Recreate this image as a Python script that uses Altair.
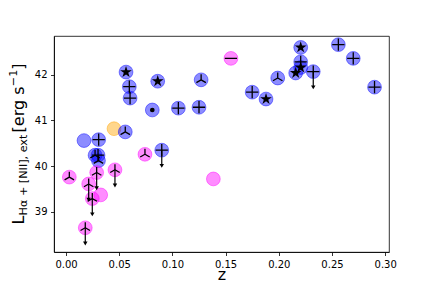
import altair as alt
import pandas as pd

# ---- data ----
z = [0.0564, 0.0862, 0.0595, 0.0602, 0.0811, 0.1056, 0.1270, 0.1250, 0.1550, 0.1750,
     0.1880, 0.1990, 0.2206, 0.2206, 0.2206, 0.2159, 0.2324, 0.2560, 0.2700, 0.2900,
     0.0451, 0.0557, 0.0169, 0.0307, 0.0900, 0.0273, 0.0301, 0.0305, 0.0742, 0.0031,
     0.0288, 0.0460, 0.0213, 0.0326, 0.0247, 0.0181, 0.1385]
lum = [42.06, 41.86, 41.74, 41.49, 41.23, 41.27, 41.89, 41.29, 42.36, 41.62,
       41.47, 41.93, 42.60, 42.285, 42.16, 42.04, 42.07, 42.66, 42.36, 41.73,
       40.82, 40.75, 40.56, 40.58, 40.35, 40.24, 40.24, 40.12, 40.26, 39.76,
       39.86, 39.92, 39.61, 39.37, 39.29, 38.65, 39.72]
colour = ["blue", "blue", "blue", "blue", "blue", "blue", "blue", "blue", "magenta", "blue",
          "blue", "blue", "blue", "blue", "blue", "blue", "blue", "blue", "blue", "blue",
          "orange", "blue", "blue", "blue", "blue", "blue", "blue", "blue", "magenta", "magenta",
          "magenta", "magenta", "magenta", "magenta", "magenta", "magenta", "magenta"]
marker = ["star", "star", "plus", "plus", "dot", "plus", "tri", "plus", "minus", "plus",
          "star", "tri", "star", "plus", "star", "star", "plus", "plus", "plus", "plus",
          "none", "tri", "none", "plus", "plus", "tri", "plus", "tri", "tri", "tri",
          "tri", "tri", "tri", "none", "tri", "tri", "none"]
uplim = [0, 0, 0, 0, 0, 0, 0, 0, 0, 0,
         0, 0, 0, 0, 0, 0, 1, 0, 0, 0,
         0, 0, 0, 0, 1, 0, 0, 0, 0, 0,
         1, 1, 1, 0, 1, 1, 0]

x_ticks = [0.00, 0.05, 0.10, 0.15, 0.20, 0.25, 0.30]
y_ticks = [39, 40, 41, 42]
x_title = "z"
y_title_parts = ["L", "Hα + [NII], ext", "[erg s", "−1", "]"]

df = pd.DataFrame(dict(z=z, L=lum, c=colour, m=marker, u=uplim))

xs = alt.Scale(domain=[-0.0113, 0.3036], nice=False, zero=False)
ys = alt.Scale(domain=[38.12, 42.85], nice=False, zero=False)
X = alt.X("z:Q", scale=xs, axis=alt.Axis(values=x_ticks, format=".2f", title=x_title,
                                         titleY=27.5, titleBaseline="alphabetic"))
Y = alt.Y("L:Q", scale=ys, axis=alt.Axis(values=y_ticks, format="d", title=None))

cscale = alt.Scale(domain=["blue", "magenta", "orange"], range=["#0000ff", "#ff00ff", "#ffa500"])

STAR = ("M0,-1L0.2245,-0.309L0.951,-0.309L0.363,0.118L0.588,0.809L0,0.382"
        "L-0.588,0.809L-0.363,0.118L-0.951,-0.309L-0.2245,-0.309Z")

base = alt.Chart(df)

circles = base.mark_point(shape="circle", filled=True, size=190, opacity=1,
                          fillOpacity=0.45, strokeOpacity=0.45, strokeWidth=1).encode(
    x=X, y=Y,
    fill=alt.Fill("c:N", scale=cscale, legend=None),
    stroke=alt.Stroke("c:N", scale=cscale, legend=None),
)

def stroked(kind, path, size):
    return base.transform_filter(f"datum.m == '{kind}'").mark_point(
        shape=path, size=size, filled=False, stroke="black", strokeWidth=1.3, opacity=1
    ).encode(x=X, y=Y)

plus = stroked("plus", "M-1,0H1M0,-1V1", 150)
tri = stroked("tri", "M0,0V-1M0,0L0.866,0.5M0,0L-0.866,0.5", 120)
minus = stroked("minus", "M-1,0H1", 150)

stars = base.transform_filter("datum.m == 'star'").mark_point(
    shape=STAR, filled=True, color="black", size=150, opacity=1).encode(x=X, y=Y)
dots = base.transform_filter("datum.m == 'dot'").mark_point(
    shape="circle", filled=True, color="black", size=22, opacity=1).encode(x=X, y=Y)

lim = base.transform_filter("datum.u == 1").transform_calculate(
    tip="datum.L - 0.33", head="datum.L - 0.345")
rules = lim.mark_rule(color="black", strokeWidth=1.2).encode(
    x=X, y=Y, y2=alt.Y2("tip:Q"))
heads = lim.mark_point(shape="triangle-down", filled=True, color="black", size=20,
                       opacity=1).encode(x=X, y=alt.Y("head:Q", scale=ys,
                                                      axis=alt.Axis(values=y_ticks, format="d", title=None)))

# y-axis title built from pieces (main text, subscript, superscript)
def piece(txt, px, py, fs):
    return alt.Chart(pd.DataFrame({"t": [txt]})).mark_text(
        angle=270, align="left", baseline="alphabetic", font="DejaVu Sans",
        fontSize=fs, color="black").encode(
        x=alt.value(px), y=alt.value(py), text="t:N")

ytitle = [
    piece(y_title_parts[0], -30, 188.5, 16),
    piece(y_title_parts[1], -27, 179.4, 11.2),
    piece(y_title_parts[2], -30, 96.4, 16),
    piece(y_title_parts[3], -37, 50.2, 11.2),
    piece(y_title_parts[4], -30, 33.7, 16),
]

chart = alt.layer(circles, plus, tri, minus, stars, dots, rules, heads, *ytitle).properties(
    width=335, height=216,
    autosize=alt.AutoSizeParams(type="none"),
    padding={"left": 46, "top": 28, "right": 35, "bottom": 28},
    background="white",
).configure_view(stroke="black", strokeWidth=0.8).configure_axis(
    labelFont="DejaVu Sans", labelFontSize=10, labelColor="black",
    tickColor="black", domainColor="black", tickSize=3.5, tickWidth=0.8,
    domainWidth=0.8, grid=False, labelPadding=3.5,
    titleFont="DejaVu Sans", titleFontSize=16, titleFontWeight="normal",
    titleColor="black",
)

chart.save("out.html", embed_options={"renderer": "svg", "actions": False})
